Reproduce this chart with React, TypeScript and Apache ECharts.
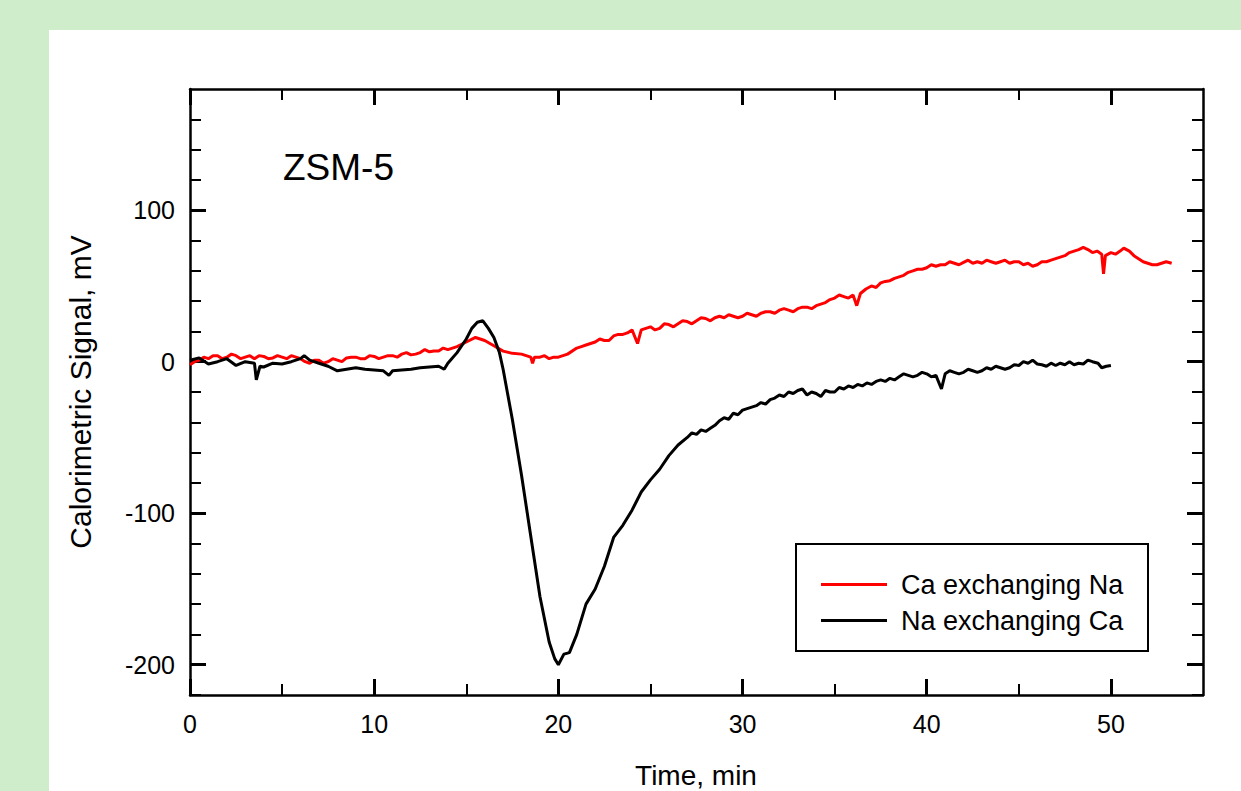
import React, { useEffect, useRef } from "react";
import * as echarts from "echarts";

// Time (min), calorimetric signal (mV)
const caExchangingNa: [number, number][] = [
  [0, -2], [0.25, 0], [0.5, 1], [0.75, 3], [1, 2], [1.25, 4], [1.5, 4], [1.75, 2], [2, 3], [2.25, 5],
  [2.5, 4], [2.75, 2], [3, 3], [3.25, 4], [3.5, 2], [3.75, 4], [4, 3.5], [4.25, 2], [4.5, 2.5], [4.75, 4],
  [5, 3], [5.25, 2], [5.5, 4], [5.75, 3], [6, 2], [6.25, 0], [6.5, -1], [6.75, 1], [7, 1], [7.25, -1],
  [7.5, 0], [7.75, 2], [8, 1], [8.25, 0], [8.5, 2.5], [8.75, 3], [9, 3], [9.25, 2], [9.5, 2], [9.75, 4],
  [10, 3.5], [10.25, 2], [10.5, 3], [10.75, 4], [11, 4], [11.25, 3], [11.5, 5], [11.75, 6], [12, 4.5], [12.25, 5],
  [12.5, 6], [12.75, 8], [13, 6.5], [13.25, 7], [13.5, 7], [13.75, 9], [14, 8], [14.5, 10], [15, 13], [15.5, 16],
  [16, 14], [16.5, 10.5], [17, 7], [17.5, 5.5], [18, 5], [18.5, 3], [18.6, -1], [18.7, 3], [19, 3], [19.25, 4],
  [19.5, 2], [19.75, 3], [20, 3], [20.5, 5], [21, 9], [21.25, 10], [21.5, 11], [21.75, 12], [22, 13], [22.25, 15],
  [22.5, 14], [22.75, 14], [23, 17], [23.25, 18], [23.5, 18], [23.75, 19], [24, 21], [24.3, 12], [24.5, 21], [25, 23],
  [25.25, 21], [25.5, 22], [25.75, 25], [26, 24.5], [26.25, 23], [26.5, 25], [26.75, 27], [27, 26.5], [27.25, 25], [27.5, 27],
  [27.75, 29], [28, 28.5], [28.25, 27], [28.5, 29], [28.75, 30], [29, 29], [29.25, 31], [29.5, 30], [29.75, 29], [30, 30],
  [30.25, 32], [30.5, 31], [30.75, 30], [31, 32], [31.25, 33], [31.5, 33], [31.75, 32], [32, 34], [32.25, 35], [32.5, 34],
  [32.75, 33], [33, 35], [33.25, 36], [33.5, 36], [33.75, 35], [34, 37], [34.25, 38], [34.5, 39], [34.75, 41], [35, 42],
  [35.25, 44], [35.5, 43], [35.75, 42], [36, 44], [36.2, 37], [36.4, 45], [36.7, 48], [37, 50], [37.25, 49], [37.5, 52],
  [37.75, 53], [38, 53.5], [38.25, 55], [38.5, 56], [38.75, 57], [39, 59], [39.25, 60], [39.5, 61], [39.75, 61], [40, 62],
  [40.25, 64], [40.5, 63], [40.75, 64], [41, 64], [41.25, 66], [41.5, 65], [41.75, 64], [42, 65.5], [42.25, 67], [42.5, 65],
  [42.75, 66], [43, 65], [43.25, 67], [43.5, 66], [43.75, 65], [44, 66], [44.25, 67], [44.5, 65], [44.75, 66], [45, 66],
  [45.25, 64], [45.5, 65], [45.75, 63], [46, 64], [46.25, 66], [46.5, 66], [46.75, 67], [47, 68], [47.25, 69], [47.5, 70],
  [47.75, 72], [48, 73], [48.25, 74], [48.5, 75.5], [48.75, 74], [49, 72], [49.25, 73], [49.5, 71], [49.6, 58], [49.7, 70],
  [50, 72], [50.25, 71], [50.5, 73], [50.7, 75], [51, 73], [51.25, 70], [51.5, 68], [51.75, 66], [52, 65], [52.25, 64],
  [52.5, 64], [52.75, 65], [53, 66], [53.3, 65],
];

const naExchangingCa: [number, number][] = [
  [0, 1], [0.5, 2.5], [1, -1.5], [1.5, 0], [2, 2], [2.5, -2.5], [3, 0], [3.5, -1], [3.6, -12], [3.8, -3],
  [4, -3.5], [4.5, -1], [5, -1.5], [5.5, 0], [6, 2], [6.2, 4], [6.5, 1], [7, -1], [7.5, -3], [8, -6],
  [8.5, -5], [9, -4], [9.5, -5], [10, -5.5], [10.5, -6], [10.8, -9], [11, -6], [11.5, -5.5], [12, -5], [12.5, -4],
  [13, -3.5], [13.5, -3], [13.8, -5], [14, -1], [14.5, 6], [15, 15], [15.3, 22], [15.6, 26], [15.9, 27], [16.2, 22],
  [16.5, 16], [16.8, 6], [17, -5], [17.5, -38], [18, -75], [18.5, -115], [19, -155], [19.5, -185], [19.8, -196], [20, -200],
  [20.3, -193], [20.6, -192], [21, -180], [21.5, -160], [22, -150], [22.5, -135], [23, -116], [23.5, -108], [24, -98], [24.5, -86],
  [25, -78], [25.5, -71], [26, -62], [26.5, -55], [27, -50], [27.25, -47], [27.5, -48], [27.75, -45], [28, -46], [28.25, -44],
  [28.5, -42], [28.75, -39], [29, -37], [29.25, -38], [29.5, -34], [29.75, -35], [30, -32], [30.25, -31], [30.5, -30], [30.75, -29],
  [31, -27], [31.25, -28], [31.5, -25], [31.75, -24], [32, -22], [32.25, -23], [32.5, -20], [32.75, -21], [33, -19], [33.25, -18],
  [33.5, -22], [33.75, -20], [34, -21], [34.25, -23], [34.5, -19], [34.75, -20], [35, -20], [35.25, -17], [35.5, -18], [35.75, -16],
  [36, -17], [36.25, -15], [36.5, -16], [36.75, -14], [37, -15], [37.25, -13], [37.5, -12], [37.75, -13], [38, -11], [38.25, -12],
  [38.5, -10], [38.75, -8], [39, -9], [39.25, -10], [39.5, -9], [39.75, -7], [40, -8], [40.25, -10], [40.5, -9], [40.8, -18],
  [41, -8], [41.25, -6], [41.5, -7], [41.75, -8], [42, -7], [42.25, -5], [42.5, -6], [42.75, -7], [43, -6], [43.25, -4],
  [43.5, -5], [43.75, -3], [44, -4], [44.25, -5], [44.5, -4], [44.75, -2], [45, -2.5], [45.25, 0], [45.5, -1], [45.75, 1],
  [46, -1.5], [46.25, -2], [46.5, -3], [46.75, -1], [47, -2.5], [47.25, -1], [47.5, -2], [47.75, 0], [48, -2], [48.25, -1],
  [48.5, -1.5], [48.75, 1], [49, 0], [49.3, -1], [49.5, -4], [49.75, -3], [50, -2.5],
];

const seriesNames = ["Ca exchanging Na", "Na exchanging Ca"];
const xMajorTicks = [0, 10, 20, 30, 40, 50];
const xMinorTicks = [5, 15, 25, 35, 45];
const yMajorTicks = [-200, -100, 0, 100];
const yMinorTicks = [-220, -180, -160, -140, -120, -80, -60, -40, -20, 20, 40, 60, 80, 120, 140, 160];
const chartTitle = "ZSM-5";
const xAxisTitle = "Time, min";
const yAxisTitle = "Calorimetric Signal, mV";

const FONT = "'Liberation Sans', Arial, sans-serif";

export default function App() {
  const ref = useRef<HTMLDivElement>(null);

  useEffect(() => {
    if (!ref.current) return;
    const chart = echarts.init(ref.current, undefined, { renderer: "svg" });

    const mkX = (position: string, ticks: number[], len: number, w: number, showLine: boolean, showLabel: boolean) => ({
      type: "value",
      min: 0,
      max: 55,
      position,
      axisLine: { show: showLine, onZero: false, lineStyle: { color: "#000", width: 2.5 } },
      axisTick: { show: true, inside: true, length: len, customValues: ticks, lineStyle: { color: "#000", width: w } },
      axisLabel: {
        show: showLabel,
        customValues: ticks,
        margin: 16,
        color: "#000",
        fontSize: 25,
        fontFamily: FONT,
      },
      splitLine: { show: false },
    });
    const mkY = (position: string, ticks: number[], len: number, w: number, showLine: boolean, showLabel: boolean) => ({
      type: "value",
      min: -220,
      max: 180,
      position,
      axisLine: { show: showLine, onZero: false, lineStyle: { color: "#000", width: 2.5 } },
      axisTick: { show: true, inside: true, length: len, customValues: ticks, lineStyle: { color: "#000", width: w } },
      axisLabel: {
        show: showLabel,
        customValues: ticks,
        margin: 15,
        color: "#000",
        fontSize: 25,
        fontFamily: FONT,
      },
      splitLine: { show: false },
    });

    chart.setOption({
      animation: false,
      backgroundColor: "transparent",
      grid: { left: 190, top: 89, right: 38, bottom: 96, containLabel: false },
      xAxis: [
        mkX("bottom", xMajorTicks, 16, 3, true, true),
        mkX("bottom", xMinorTicks, 11, 2, false, false),
        mkX("top", xMajorTicks, 16, 3, true, false),
        mkX("top", xMinorTicks, 11, 2, false, false),
      ],
      yAxis: [
        mkY("left", yMajorTicks, 16, 3, true, true),
        mkY("left", yMinorTicks, 11, 2, false, false),
        mkY("right", yMajorTicks, 16, 3, true, false),
        mkY("right", yMinorTicks, 11, 2, false, false),
      ],
      legend: {
        orient: "vertical",
        left: 816,
        top: 566,
        itemGap: 9,
        itemWidth: 75,
        itemHeight: 3,
        icon: "path://M0,0L66,0L66,3L0,3Z M75,0L75,3",
        textStyle: { color: "#000", fontSize: 27, fontFamily: FONT },
        data: seriesNames,
      },
      graphic: [
        {
          type: "rect",
          shape: { x: 796, y: 544, width: 352, height: 107 },
          style: { fill: "none", stroke: "#000", lineWidth: 2 },
          silent: true,
        },
        {
          type: "text",
          x: 283,
          y: 167,
          style: {
            text: chartTitle,
            fontSize: 37,
            fontFamily: FONT,
            fill: "#000",
            textAlign: "left",
            textVerticalAlign: "middle",
          },
        },
        {
          type: "text",
          x: 696,
          y: 775,
          style: {
            text: xAxisTitle,
            fontSize: 28,
            fontFamily: FONT,
            fill: "#000",
            textAlign: "center",
            textVerticalAlign: "middle",
          },
        },
        {
          type: "text",
          x: 80,
          y: 392,
          rotation: Math.PI / 2,
          style: {
            text: yAxisTitle,
            fontSize: 30,
            fontFamily: FONT,
            fill: "#000",
            textAlign: "center",
            textVerticalAlign: "middle",
          },
        },
      ],
      series: [
        {
          name: seriesNames[0],
          type: "line",
          xAxisIndex: 0,
          yAxisIndex: 0,
          data: caExchangingNa,
          showSymbol: false,
          symbol: "none",
          lineStyle: { color: "#ff0000", width: 3 },
          itemStyle: { color: "#ff0000" },
        },
        {
          name: seriesNames[1],
          type: "line",
          xAxisIndex: 0,
          yAxisIndex: 0,
          data: naExchangingCa,
          showSymbol: false,
          symbol: "none",
          lineStyle: { color: "#000000", width: 3 },
          itemStyle: { color: "#000000" },
        },
      ],
    });

    return () => chart.dispose();
  }, []);

  return (
    <div style={{ position: "fixed", left: 0, top: 0, width: 1241, height: 791, background: "#CFEDCA", overflow: "hidden" }}>
      <div style={{ position: "absolute", left: 49, top: 30, right: 0, bottom: 0, background: "#ffffff" }} />
      <div ref={ref} style={{ position: "absolute", left: 0, top: 0, width: 1241, height: 791 }} />
    </div>
  );
}
